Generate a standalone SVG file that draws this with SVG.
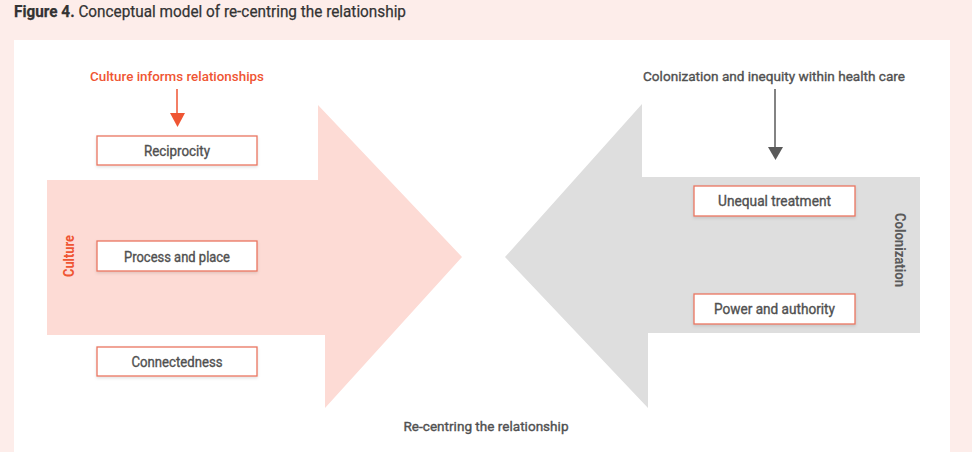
<svg xmlns="http://www.w3.org/2000/svg" width="972" height="452" viewBox="0 0 972 452">
<defs>
<style>
.t{font-family:Roboto,"Liberation Sans",sans-serif;}
.box{fill:#ffffff;stroke:#ea7660;stroke-width:1.3;}
.bl{font-family:Roboto,"Liberation Sans",sans-serif;font-size:14px;fill:#505050;stroke:#505050;stroke-width:0.35;text-anchor:middle;font-weight:400;}
.g{fill:#505050;stroke:#505050;stroke-width:0.35;}
</style>
<filter id="sh" x="-10%" y="-20%" width="120%" height="150%">
<feDropShadow dx="0" dy="1.5" stdDeviation="1.5" flood-color="#000" flood-opacity="0.12"/>
</filter>
</defs>
<rect x="0" y="0" width="972" height="452" fill="#fdedea"/>
<rect x="14" y="40" width="936" height="412" fill="#ffffff"/>
<text class="t" x="14" y="17" font-size="16.5" fill="#333333" stroke="#333333" stroke-width="0.25" textLength="392" lengthAdjust="spacingAndGlyphs"><tspan font-weight="700">Figure 4.</tspan> Conceptual model of re-centring the relationship</text>

<g id="culture-arrow">
<polygon points="47,180 318,180 318,105 462,257 325,408 325,335 47,335" fill="#fddbd5"/>
<text class="t" transform="translate(74,256) rotate(-90)" font-size="14" font-weight="700" fill="#ef5533" text-anchor="middle" textLength="42" lengthAdjust="spacingAndGlyphs">Culture</text>
</g>
<g id="colonization-arrow">
<polygon points="920,177 642,177 642,104 505,257 648,408 648,333 920,333" fill="#dedede"/>
<text class="t" transform="translate(895,250) rotate(90)" font-size="14" font-weight="700" fill="#5a5a5a" text-anchor="middle" textLength="74" lengthAdjust="spacingAndGlyphs">Colonization</text>
</g>

<g id="culture-informs">
<text class="t" x="177" y="81" font-size="13.5" font-weight="500" fill="#ef5533" text-anchor="middle" textLength="174" lengthAdjust="spacingAndGlyphs">Culture informs relationships</text>
</g>
<g id="colonization-inequity">
<text class="t g" x="774" y="81" font-size="13.5" text-anchor="middle" textLength="262" lengthAdjust="spacingAndGlyphs">Colonization and inequity within health care</text>
</g>

<g id="connectors">
<line x1="177" y1="89" x2="177" y2="115" stroke="#ef5533" stroke-width="1.5"/>
<polygon points="170,113 185,113 177.5,127" fill="#ef5533"/>
<line x1="775" y1="89" x2="775" y2="149" stroke="#5a5a5a" stroke-width="1.5"/>
<polygon points="768,147 783,147 775.5,160" fill="#5a5a5a"/>
</g>

<g id="reciprocity"><rect class="box" x="97" y="136" width="160" height="29" filter="url(#sh)"/><text class="bl" x="177" y="156" textLength="66" lengthAdjust="spacingAndGlyphs">Reciprocity</text></g>
<g id="process-and-place"><rect class="box" x="97" y="241" width="160" height="30" filter="url(#sh)"/><text class="bl" x="177" y="262" textLength="106" lengthAdjust="spacingAndGlyphs">Process and place</text></g>
<g id="connectedness"><rect class="box" x="97" y="347" width="160" height="29" filter="url(#sh)"/><text class="bl" x="177" y="367" textLength="91" lengthAdjust="spacingAndGlyphs">Connectedness</text></g>
<g id="unequal-treatment"><rect class="box" x="694" y="186" width="161" height="30" filter="url(#sh)"/><text class="bl" x="774.5" y="206" textLength="113" lengthAdjust="spacingAndGlyphs">Unequal treatment</text></g>
<g id="power-and-authority"><rect class="box" x="694" y="294" width="161" height="30" filter="url(#sh)"/><text class="bl" x="774.5" y="314" textLength="121" lengthAdjust="spacingAndGlyphs">Power and authority</text></g>

<g id="recentring">
<text class="t g" x="486" y="431" font-size="13.5" text-anchor="middle" textLength="165" lengthAdjust="spacingAndGlyphs">Re-centring the relationship</text>
</g>
</svg>
